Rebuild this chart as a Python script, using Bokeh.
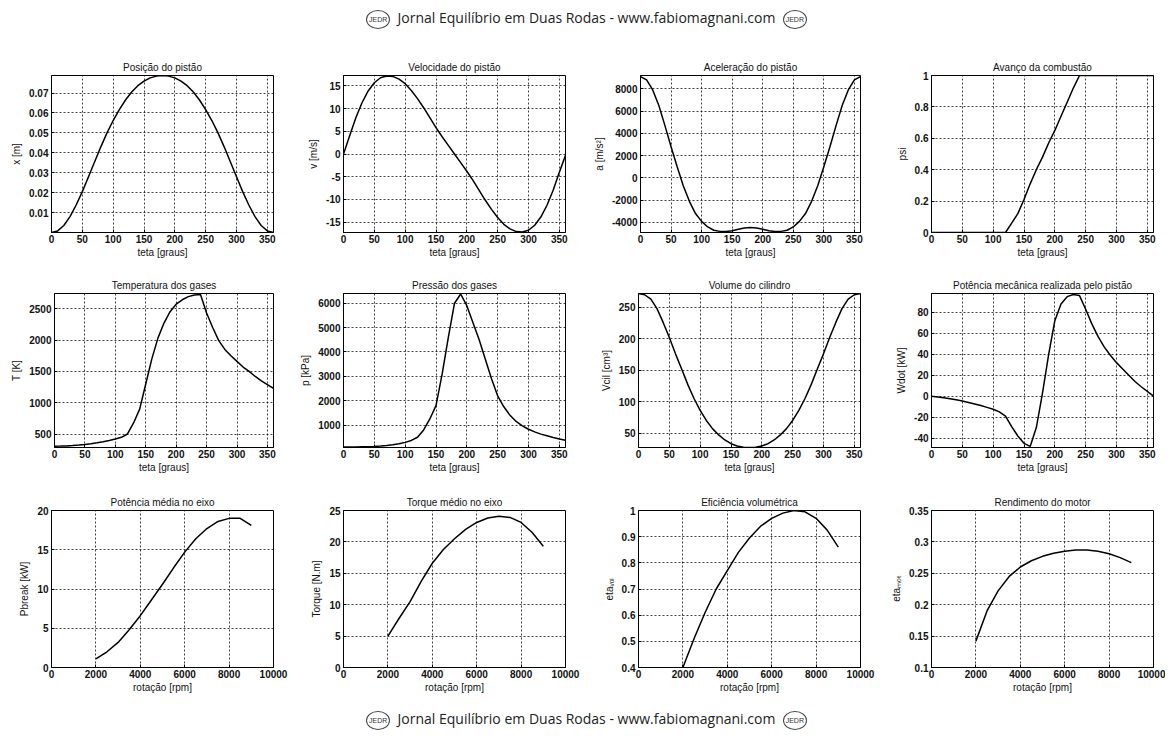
from bokeh.plotting import figure
from bokeh.layouts import column, row
from bokeh.models import Div, Range1d, FixedTicker
from bokeh.embed import file_html
from bokeh.resources import INLINE

# ---------------- data ----------------
theta = [0, 10, 20, 30, 40, 50, 60, 70, 80, 90, 100, 110, 120, 130, 140, 150, 160, 170, 180,
         190, 200, 210, 220, 230, 240, 250, 260, 270, 280, 290, 300, 310, 320, 330, 340, 350, 360]

posicao = [0.0000, 0.0008, 0.0035, 0.0080, 0.0138, 0.0205, 0.0280, 0.0355, 0.0430, 0.0500,
           0.0562, 0.0617, 0.0665, 0.0705, 0.0737, 0.0760, 0.0776, 0.0785, 0.0788,
           0.0785, 0.0776, 0.0760, 0.0737, 0.0705, 0.0665, 0.0617, 0.0562, 0.0500, 0.0430,
           0.0355, 0.0280, 0.0205, 0.0138, 0.0080, 0.0035, 0.0008, 0.0000]

velocidade = [0.0, 4.0, 8.0, 11.3, 13.9, 15.7, 16.8, 17.2, 17.1, 16.5, 15.5, 14.0, 12.2, 10.2,
              8.0, 5.8, 3.8, 1.9, 0.0, -1.9, -3.8, -5.8, -8.0, -10.2, -12.2, -14.0, -15.5,
              -16.5, -17.1, -17.2, -16.8, -15.7, -13.9, -11.3, -8.0, -4.0, -0.3]

aceleracao = [9100, 8800, 7900, 6500, 4700, 2800, 1000, -700, -2100, -3200, -3900, -4400,
              -4700, -4800, -4800, -4750, -4600, -4500, -4450, -4500, -4600, -4750, -4800,
              -4800, -4700, -4400, -3900, -3200, -2100, -700, 1000, 2800, 4700, 6500, 7900,
              8800, 9100]

psi = [0, 0, 0, 0, 0, 0, 0, 0, 0, 0, 0, 0, 0, 0.06, 0.12, 0.21, 0.31, 0.40, 0.48, 0.57,
       0.65, 0.74, 0.83, 0.92, 1.0, 1, 1, 1, 1, 1, 1, 1, 1, 1, 1, 1, 1]

temperatura = [310, 312, 315, 320, 328, 338, 350, 365, 382, 402, 425, 452, 505, 680, 900,
               1300, 1700, 2030, 2270, 2450, 2570, 2640, 2690, 2715, 2725, 2430, 2200, 1990,
               1850, 1750, 1660, 1570, 1500, 1420, 1350, 1290, 1230]

pressao = [100, 100, 105, 110, 115, 125, 140, 160, 190, 230, 290, 370, 500, 800, 1250, 1800,
           3100, 4600, 6000, 6380, 5900, 5200, 4500, 3700, 2900, 2200, 1750, 1400, 1150, 970,
           830, 720, 630, 560, 490, 430, 380]

volume = [272, 270, 263, 248, 226, 202, 176, 152, 127, 105, 86, 70, 57, 47, 39, 33, 29.5,
          27.5, 27, 27.5, 29.5, 33, 39, 47, 57, 70, 86, 105, 127, 152, 176, 202, 226, 248,
          263, 270, 272]

potencia_pistao = [0, -0.7, -1.5, -2.5, -3.5, -4.7, -6, -7.5, -9, -10.7, -12.5, -15, -19, -29,
                   -38, -45, -48, -30, 3, 40, 72, 88, 95, 97, 96, 83, 69, 57, 47, 39, 32, 26,
                   20, 14, 9, 4.5, 0]

rotacao = [2000, 2500, 3000, 3500, 4000, 4500, 5000, 5500, 6000, 6500, 7000, 7500, 8000,
           8500, 9000]
pbreak = [1.1, 2.0, 3.2, 4.8, 6.6, 8.6, 10.6, 12.7, 14.7, 16.4, 17.7, 18.6, 19.0, 19.0, 18.1]
torque = [5.0, 7.8, 10.5, 13.7, 16.6, 18.8, 20.5, 22.0, 23.1, 23.8, 24.1, 23.9, 23.1, 21.5, 19.3]
eta_vol = [0.40, 0.51, 0.61, 0.70, 0.77, 0.84, 0.895, 0.94, 0.97, 0.99, 1.0, 0.995, 0.97,
           0.925, 0.86]
eta_mot = [0.142, 0.19, 0.222, 0.245, 0.26, 0.270, 0.277, 0.282, 0.285, 0.287, 0.287, 0.285,
           0.281, 0.275, 0.267]

ticks_theta = [0, 50, 100, 150, 200, 250, 300, 350]
ticks_rpm = [0, 2000, 4000, 6000, 8000, 10000]

titles = ["Posição do pistão", "Velocidade do pistão", "Aceleração do pistão",
          "Avanço da combustão", "Temperatura dos gases", "Pressão dos gases",
          "Volume do cilindro", "Potência mecânica realizada pelo pistão",
          "Potência média no eixo", "Torque médio no eixo", "Eficiência volumétrica",
          "Rendimento do motor"]
ylabels = ["x [m]", "v [m/s]", "a [m/s²]", "psi", "T [K]", "p [kPa]", "Vcil [cm³]",
           "Wdot [kW]", "Pbreak [kW]", "Torque [N.m]", "etaᵥₒₗ", "etaₘₒₜ"]
yticks = [[0.01, 0.02, 0.03, 0.04, 0.05, 0.06, 0.07],
          [-15, -10, -5, 0, 5, 10, 15],
          [-4000, -2000, 0, 2000, 4000, 6000, 8000],
          [0, 0.2, 0.4, 0.6, 0.8, 1],
          [500, 1000, 1500, 2000, 2500],
          [1000, 2000, 3000, 4000, 5000, 6000],
          [50, 100, 150, 200, 250],
          [-40, -20, 0, 20, 40, 60, 80],
          [0, 5, 10, 15, 20],
          [0, 5, 10, 15, 20, 25],
          [0.4, 0.5, 0.6, 0.7, 0.8, 0.9, 1],
          [0.1, 0.15, 0.2, 0.25, 0.3, 0.35]]
yranges = [(0, 0.0788), (-17.3, 17.3), (-4900, 9200), (0, 1), (290, 2740), (80, 6400),
           (27, 272), (-49, 98), (0, 20), (0, 25), (0.4, 1), (0.1, 0.35)]

FONT = "Liberation Sans"


def lbl(t):
    return ("%g" % t)


def make(i, xs, ys, xr, xt, xlabel, w, h, bl, br, bt, bb):
    p = figure(width=w, height=h, output_backend="svg", toolbar_location=None,
               x_range=Range1d(*xr), y_range=Range1d(*yranges[i]),
               min_border_left=bl, min_border_right=br, min_border_top=bt,
               min_border_bottom=bb, title=titles[i])
    p.line(xs, ys, line_color="black", line_width=1.5)
    p.title.align = "center"
    p.title.text_font = FONT
    p.title.text_font_size = "10px"
    p.title.text_font_style = "normal"
    p.title.text_color = "#111111"
    p.title.standoff = 6
    p.outline_line_color = "black"
    p.outline_line_alpha = 1
    p.background_fill_color = "white"
    p.border_fill_color = "white"
    for ax, ticks, label in ((p.xaxis[0], xt, xlabel), (p.yaxis[0], yticks[i], ylabels[i])):
        ax.ticker = FixedTicker(ticks=ticks)
        ax.major_label_overrides = {t: lbl(t) for t in ticks}
        ax.minor_tick_line_color = None
        ax.major_tick_in = 3
        ax.major_tick_out = 0
        ax.axis_line_color = "black"
        ax.major_tick_line_color = "black"
        ax.major_label_text_font = FONT
        ax.major_label_text_font_size = "10px"
        ax.major_label_text_font_style = "bold"
        ax.major_label_text_color = "#111111"
        ax.axis_label = label
        ax.axis_label_text_font = FONT
        ax.axis_label_text_font_size = "10px"
        ax.axis_label_text_font_style = "normal"
        ax.axis_label_text_color = "#111111"
    p.xaxis.major_label_standoff = 2
    p.xaxis.axis_label_standoff = 1
    p.yaxis.major_label_standoff = 3
    p.yaxis.axis_label_standoff = 4
    for g in (p.xgrid[0], p.ygrid[0]):
        g.grid_line_color = "black"
        g.grid_line_dash = "2 2"
        g.grid_line_alpha = 0.75
        g.grid_line_width = 1
    return p


widths = [287, 295, 293, 282]
bls = [43, 48, 48, 48]
brs = [22, 25, 23, 12]
row_h = [(220, 35, 28), (215, 33, 28), (227, 35, 35)]

series = [posicao, velocidade, aceleracao, psi, temperatura, pressao, volume, potencia_pistao,
          pbreak, torque, eta_vol, eta_mot]

rows = []
for r in range(3):
    figs = []
    h, bt, bb = row_h[r]
    for c in range(4):
        i = r * 4 + c
        if r < 2:
            xs, xr, xt, xl = theta, (0, 360), ticks_theta, "teta [graus]"
        else:
            xs, xr, xt, xl = rotacao, (0, 10000), ticks_rpm, "rotação [rpm]"
        figs.append(make(i, xs, series[i], xr, xt, xl, widths[c], h, bls[c], brs[c], bt, bb))
    rows.append(row(*figs, spacing=0))

logo = ('<span style="display:inline-block;border:1px solid #444;border-radius:50%;'
        'font-size:7px;line-height:9px;padding:4px 2px;vertical-align:middle;color:#333;'
        'font-family:\'Liberation Sans\';">JEDR</span>')
texto = "Jornal Equilíbrio em Duas Rodas - www.fabiomagnani.com"


def banner(pad):
    return Div(text=('<div style="width:1157px;height:32px;box-sizing:border-box;'
                     'text-align:center;font-family:\'Open Sans\';'
                     'font-size:14px;color:#222;line-height:20px;padding-top:%dpx;">'
                     '%s&nbsp; %s &nbsp;%s</div>') % (pad, logo, texto, logo),
               width=1157, height=32, margin=(0, 0, 0, 0))


layout = column(banner(0), *rows, banner(7), spacing=0, margin=(8, 0, 0, 8))

open("out.html", "w").write(file_html(layout, INLINE))
